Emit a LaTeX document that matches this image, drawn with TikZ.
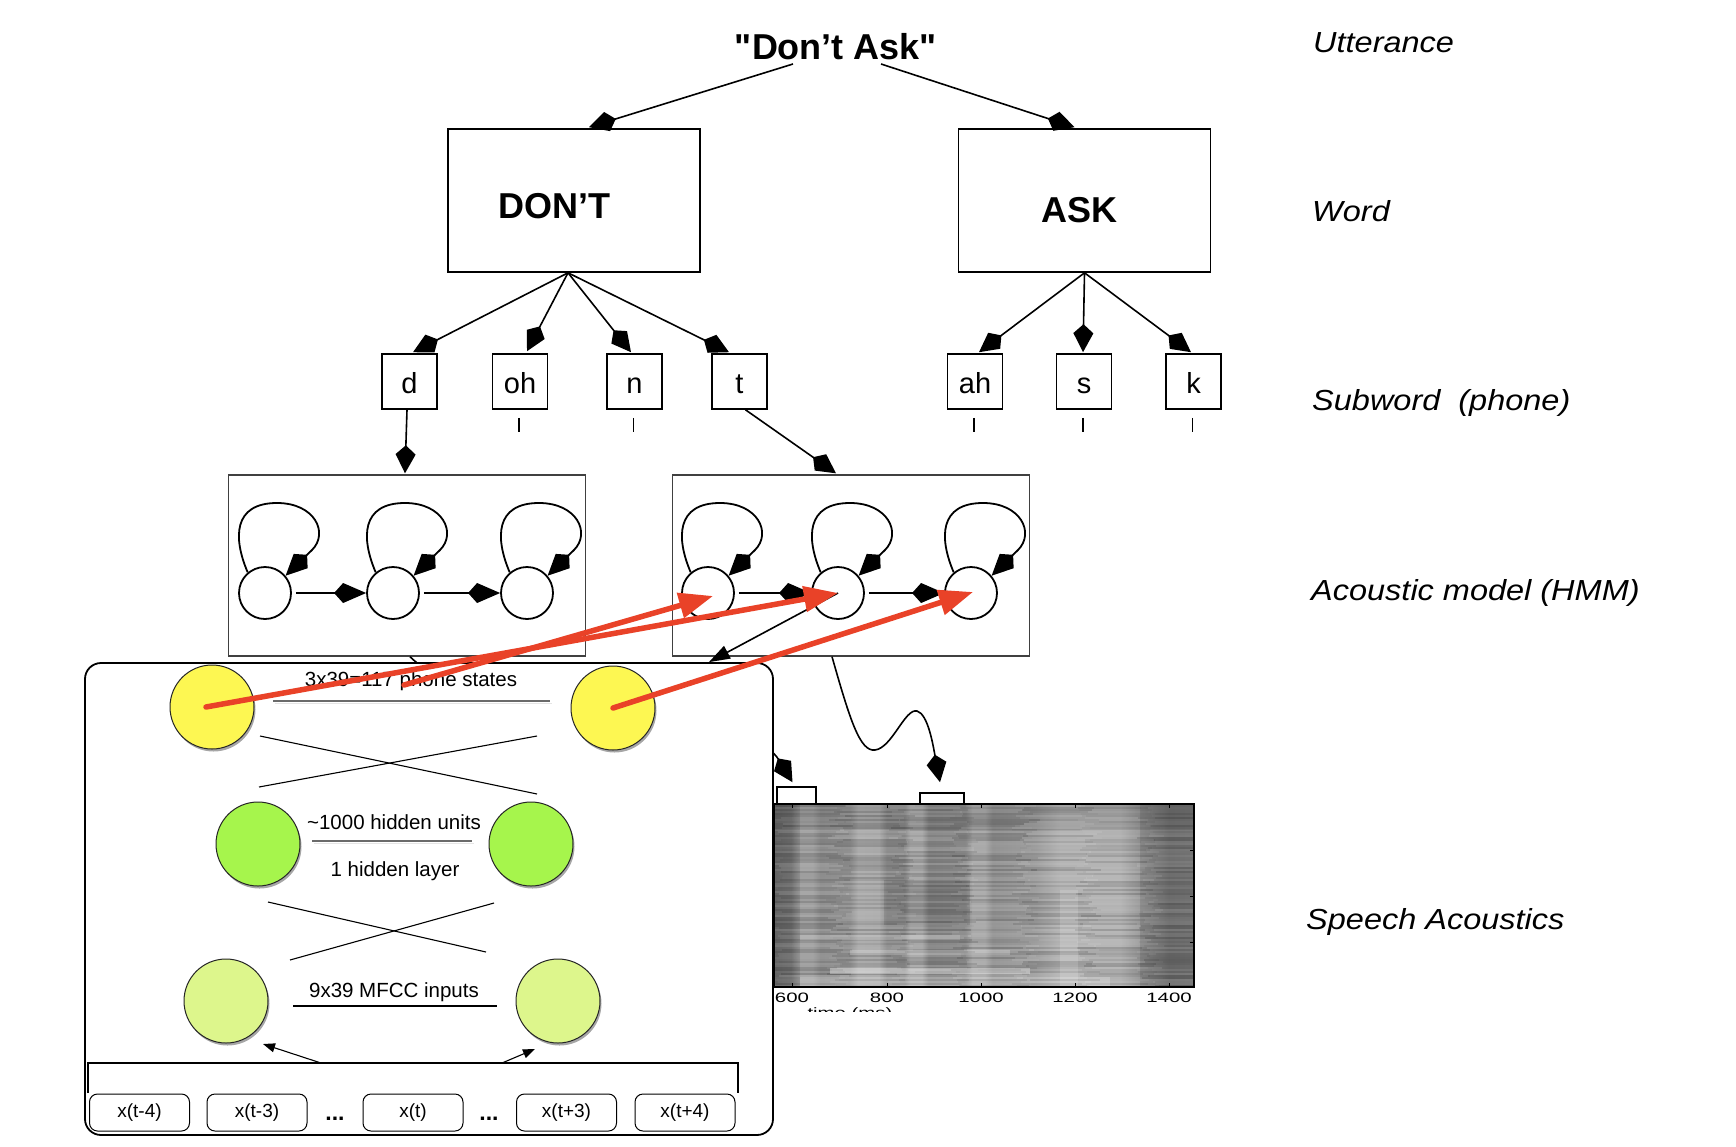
\documentclass[tikz,border=0pt]{standalone}
\usepackage{fontspec}
\usepackage{graphicx}
\setmainfont{Liberation Sans}[Ligatures=TeXOff]
\usetikzlibrary{arrows.meta,calc,shadows}

\definecolor{nnyellow}{RGB}{253,247,82}
\definecolor{nngreen}{RGB}{166,245,76}
\definecolor{nnlight}{RGB}{221,246,140}
\definecolor{redarrow}{RGB}{233,66,40}

\pgfdeclarehorizontalshading{specshade}{100bp}{color(0bp)=(black!58); color(25bp)=(black!58); color(27bp)=(black!54); color(28.1bp)=(black!39); color(29.6bp)=(black!39); color(30.5bp)=(black!46); color(34bp)=(black!44); color(35bp)=(black!34); color(37.5bp)=(black!35); color(38.4bp)=(black!46); color(40.5bp)=(black!46); color(41.2bp)=(black!35); color(42.6bp)=(black!35); color(43.4bp)=(black!48); color(47.8bp)=(black!46); color(48.6bp)=(black!35); color(50.1bp)=(black!35); color(51bp)=(black!44); color(56bp)=(black!40); color(59bp)=(black!31); color(66.2bp)=(black!31); color(69.2bp)=(black!44); color(72bp)=(black!54); color(75bp)=(black!52); color(100bp)=(black!52)}

\begin{document}
\begin{tikzpicture}[x=1pt,y=-1pt,
  wordbox/.style={draw, line width=1.6pt, minimum width=252pt, minimum height=143pt, inner sep=0pt},
  bigbold/.style={font=\fontsize{36}{42}\selectfont\bfseries, inner sep=0pt},
  phone/.style={draw, line width=1.6pt, minimum width=55pt, minimum height=55pt, inner sep=0pt, font=\fontsize{29}{34}\selectfont, text height=24pt, text depth=0pt},
  treearr/.style={line width=1.6pt, -{Kite[length=28pt,width=20pt,inset=9pt]}},
  hmmbox/.style={draw=black!75, line width=1.4pt, minimum width=357pt, minimum height=181pt, inner sep=0pt},
  state/.style={circle, draw, line width=1.8pt, minimum size=52pt, inner sep=0pt},
  hmmarr/.style={line width=1.8pt, -{Kite[length=32pt,width=20pt,inset=9pt]}},
  looparr/.style={line width=1.8pt, -{Kite[length=30pt,width=20pt,inset=9pt]}},
  blkarr/.style={line width=1.6pt, -{Triangle[length=21pt,width=14pt]}},
  redarr/.style={draw=redarrow, line width=5.5pt, line cap=round, -{Triangle[length=34pt,width=25pt]}},
  unit/.style={circle, draw=black!85, line width=1pt, minimum size=84pt, inner sep=0pt, drop shadow={shadow xshift=1.5pt, shadow yshift=-2.5pt, opacity=0.35, fill=black}},
  nntext/.style={font=\fontsize{20.5}{24}\selectfont, inner sep=0pt},
  inbox/.style={draw, rounded corners=8pt, line width=1pt, minimum width=100pt, minimum height=37pt, inner sep=0pt, font=\fontsize{19}{22}\selectfont},
  smallarr/.style={line width=1.1pt, -{Triangle[length=12pt,width=9pt]}},
  thinline/.style={line width=1.1pt},
  grayrule/.style={draw=black!58, line width=1.8pt},
  grayshadow/.style={draw=black!10, line width=1.6pt},
  lab/.style={font=\fontsize{29}{34}\selectfont\itshape, inner sep=0pt},
  ticklab/.style={font=\fontsize{13.6}{16}\selectfont, inner sep=0pt},
  seg/.style={draw, line width=1.6pt, inner sep=0pt},
  dotsf/.style={font=\fontsize{23}{26}\selectfont\bfseries, inner sep=0pt}
]
\useasboundingbox (0,0) rectangle (1736,1146);

% ---------- utterance / words ----------
\node[bigbold, anchor=base] (utt) at (836,59) {"Don’t Ask"};
\coordinate (uttL) at (793,64);
\coordinate (uttR) at (881,64);
\node[wordbox] (dont) at (574,200.5) {};
\node[wordbox] (ask) at (1084.5,200.5) {};
\node[bigbold, anchor=base] (donttxt) at (554.5,218) {DON’T};
\node[bigbold, anchor=base] (asktxt) at (1079,222) {ASK};
\draw[treearr] (uttL) -- ($(dont.north)+(15,-1)$);
\draw[treearr] (uttR) -- ($(ask.north)+(-10,-1)$);

% ---------- phones ----------
\node[phone] (d)  at (409.5,381.5) {d};
\node[phone] (oh) at (520,381.5) {oh};
\node[phone] (n)  at (634.5,381.5) {n};
\node[phone] (t)  at (739.5,381.5) {t};
\node[phone] (ah) at (975,381.5) {ah};
\node[phone] (s)  at (1084,381.5) {s};
\node[phone] (k)  at (1193.5,381.5) {k};
\coordinate (dontap) at ($(dont.south)+(-6,0)$);
\draw[treearr] (dontap) -- ($(d.north)+(3.5,-1)$);
\draw[treearr] (dontap) -- ($(oh.north)+(7,-2)$);
\draw[treearr] (dontap) -- ($(n.north)+(-3.5,-1)$);
\draw[treearr] (dontap) -- ($(t.north)+(-10.5,-1)$);
\draw[treearr] (ask.south) -- ($(ah.north)+(4,-1)$);
\draw[treearr] (ask.south) -- ($(s.north)+(-1,-1)$);
\draw[treearr] (ask.south) -- ($(k.north)+(-2.5,-1)$);
\foreach \p in {oh,n,ah,s,k}{
  \draw[line width=1.4pt] ($(\p.south)+(-1,8)$) -- ($(\p.south)+(-1,22)$);
}

% ---------- HMMs ----------
\node[hmmbox] (hmmL) at (407,565.5) {};
\node[hmmbox] (hmmR) at (851,565.5) {};
\draw[treearr] (d.south -| hmmL.north) -- ($(hmmL.north)+(-2,-1)$);
\draw[treearr] ($(t.south)+(6,0)$) -- ($(hmmR.north)+(-15,-1)$);

\node[state] (l1) at (265,593) {};
\node[state] (l2) at (393,593) {};
\node[state] (l3) at (527,593) {};
\node[state] (r1) at (708,593) {};
\node[state] (r2) at (838,593) {};
\node[state] (r3) at (971,593) {};
\foreach \a/\b in {l1/l2,l2/l3,r1/r2,r2/r3}{
  \draw[hmmarr, shorten <=4pt] (\a) -- (\b);
}
\foreach \s in {l1,l2,l3,r1,r2,r3}{
  \draw[looparr] (\s.130) .. controls ($(\s)+(-32,-55)$) and ($(\s)+(-32,-90)$) .. ($(\s)+(12,-90)$)
     .. controls ($(\s)+(50,-90)$) and ($(\s)+(64,-60)$) .. ($(\s)+(47,-43)$) -- (\s.40);
}

% ---------- spectrogram ----------
\begin{scope}
  \clip (774,804) rectangle (1194,987);
  \shade[shading=specshade] (774,804) rectangle (1194,987);
  \pgfmathsetseed{11}
  \foreach \k in {0,...,91}{
    \foreach \j in {0,...,6}{
      \pgfmathsetmacro{\op}{0.02+0.11*rnd}
      \pgfmathtruncatemacro{\cl}{rnd<0.5 ? 0 : 100}
      \pgfmathsetmacro{\xa}{764+62*\j+20*rnd}
      \draw[draw=black!\cl, opacity=\op, line width=1.3pt] (\xa,{804+2*\k}) -- ++(70,0);
    }
  }
  \fill[black, opacity=0.10] (774,804) rectangle (1194,830);
  \fill[black, opacity=0.10] (884,880) rectangle (970,925);
  \fill[black, opacity=0.08] (774,804) rectangle (800,987);
  \fill[white, opacity=0.15] (1060,890) rectangle (1078,987);
  \fill[white, opacity=0.18] (800,935) rectangle (960,940);
  \fill[white, opacity=0.22] (850,950) rectangle (1010,955);
  \fill[white, opacity=0.35] (830,968) rectangle (1030,974);
  \fill[white, opacity=0.22] (800,977) rectangle (1110,987);
  \fill[black, opacity=0.10] (1140,804) rectangle (1194,987);
\end{scope}
\draw[line width=1.3pt] (774,804) rectangle (1194,987);
\foreach \xx in {792,887,981,1075,1169}{
  \draw[line width=0.8pt] (\xx,804) -- ++(0,4);
  \draw[line width=0.8pt] (\xx,987) -- ++(0,-4);
}
\foreach \yy in {850,896,942}{
  \draw[line width=0.8pt] (1194,\yy) -- ++(-4,0);
}
\foreach \xx/\lab in {792/600,887/800,981/1000,1075/1200,1169/1400}{
  \node[ticklab, anchor=base] (tl\lab) at (\xx,1002) {\scalebox{1.5}[1]{\lab}};
}
\begin{scope}
  \clip (760,990) rectangle (1000,1011);
  \node[ticklab, anchor=base] (tms) at (850,1017) {\scalebox{1.5}[1]{time (ms)}};
\end{scope}
\node[seg, minimum width=39pt, minimum height=17pt] (seg1) at (796.5,795.5) {};
\node[seg, minimum width=44pt, minimum height=11pt] (seg2) at (942,798.5) {};

% connectors to the spectrogram segments
\draw[treearr] ($(hmmL.south)+(3,0)$) .. controls (480,726) and (745,705) .. ($(seg1.north)+(-4,-4)$);
\draw[treearr] ($(hmmR.south)+(-19,0)$) .. controls (850,720) and (860,752) .. (875,750)
   .. controls (892,748) and (905,708) .. (917,711)
   .. controls (928,714) and (933,745) .. ($(seg2.north)+(-2,-10)$);

% ---------- neural network panel ----------
\node[draw, line width=1.8pt, rounded corners=16pt, fill=white, minimum width=688pt, minimum height=472pt, inner sep=0pt] (nn) at (429,899) {};

\node[unit, fill=nnyellow] (o1) at (212,707) {};
\node[unit, fill=nnyellow] (o2) at (613,708) {};
\node[unit, fill=nngreen] (h1) at (258,844) {};
\node[unit, fill=nngreen] (h2) at (531,844) {};
\node[unit, fill=nnlight] (i1) at (226,1001) {};
\node[unit, fill=nnlight] (i2) at (558,1001) {};

\node[nntext, anchor=base] (otxt) at (411,686) {3x39=117 phone states};
\draw[grayshadow] (275,703.5) -- (552,703.5);
\draw[grayrule] (273,701) -- (550,701);
\draw[thinline] (260,736) -- (537,794);
\draw[thinline] (259,787) -- (537,736);
\node[nntext, anchor=base] (htxt) at (394,829) {\textasciitilde 1000 hidden units};
\draw[grayshadow] (314,843.5) -- (474,843.5);
\draw[grayrule] (312,841) -- (472,841);
\node[nntext, anchor=base] (ltxt) at (395,876) {1 hidden layer};
\draw[thinline] (268,902) -- (486,952);
\draw[thinline] (494,903) -- (290,960);
\node[nntext, anchor=base] (itxt) at (394,997) {9x39 MFCC inputs};
\draw[thinline] (293,1006) -- (497,1006);

\draw[thinline] (88,1093) -- (88,1063) -- (738,1063) -- (738,1093);
\coordinate (brL) at (321,1063);
\coordinate (brR) at (502,1063);
\draw[smallarr] (brL) -- ($(i1)+(37,43)$);
\draw[smallarr] (brR) -- ($(i2)+(-23,48)$);

\node[inbox] (x1) at (139.5,1112.5) {x(t-4)};
\node[inbox] (x2) at (257,1112.5) {x(t-3)};
\node[inbox] (x3) at (413,1112.5) {x(t)};
\node[inbox] (x4) at (566.5,1112.5) {x(t+3)};
\node[inbox] (x5) at (685,1112.5) {x(t+4)};
\node[dotsf, anchor=base] (dots1) at (335,1120) {...};
\node[dotsf, anchor=base] (dots2) at (489,1120) {...};

% HMM to NN
\coordinate (nntop) at ($(nn.north east)+(-65,0)$);
\draw[blkarr] (r2.center) -- (nntop);

% ---------- red arrows ----------
\coordinate (rs2) at (404,685);
\draw[redarr] ($(o1)+(-6,0)$) -- (r2.center);
\draw[redarr] (rs2) -- ($(r1.center)+(5,3)$);
\draw[redarr] (o2.center) -- ($(r3.center)+(2,-1)$);

% ---------- level labels ----------
\node[lab, anchor=base west] (lutt) at (1313,52) {\scalebox{1.12}[1]{Utterance}};
\node[lab, anchor=base west] (lword) at (1312,221) {\scalebox{1.12}[1]{Word}};
\node[lab, anchor=base west] (lsub) at (1312,410) {\scalebox{1.12}[1]{Subword\ \ (phone)}};
\node[lab, anchor=base west] (lac) at (1311,600) {\scalebox{1.12}[1]{Acoustic model (HMM)}};
\node[lab, anchor=base west] (lsp) at (1306,929) {\scalebox{1.12}[1]{Speech Acoustics}};
\end{tikzpicture}
\end{document}
